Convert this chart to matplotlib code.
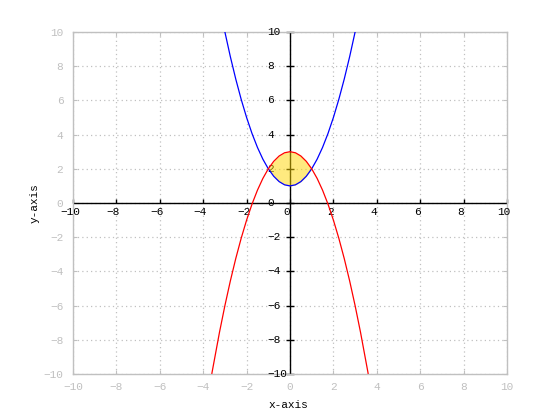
import matplotlib
matplotlib.use('Agg')
import matplotlib.pyplot as plt

# Data
x_blue = [-3.0, -2.75, -2.5, -2.25, -2.0, -1.75, -1.5, -1.25, -1.0, -0.75, -0.5, -0.25,
          0.0, 0.25, 0.5, 0.75, 1.0, 1.25, 1.5, 1.75, 2.0, 2.25, 2.5, 2.75, 3.0]
y_blue = [10.0, 8.5625, 7.25, 6.0625, 5.0, 4.0625, 3.25, 2.5625, 2.0, 1.5625, 1.25, 1.0625,
          1.0, 1.0625, 1.25, 1.5625, 2.0, 2.5625, 3.25, 4.0625, 5.0, 6.0625, 7.25, 8.5625, 10.0]

x_red = [-3.6, -3.25, -3.0, -2.75, -2.5, -2.25, -2.0, -1.75, -1.5, -1.25, -1.0, -0.75, -0.5, -0.25,
         0.0, 0.25, 0.5, 0.75, 1.0, 1.25, 1.5, 1.75, 2.0, 2.25, 2.5, 2.75, 3.0, 3.25, 3.6]
y_red = [-9.96, -7.5625, -6.0, -4.5625, -3.25, -2.0625, -1.0, -0.0625, 0.75, 1.4375, 2.0, 2.4375, 2.75, 2.9375,
         3.0, 2.9375, 2.75, 2.4375, 2.0, 1.4375, 0.75, -0.0625, -1.0, -2.0625, -3.25, -4.5625, -6.0, -7.5625, -9.96]

x_fill = [-1.0, -0.875, -0.75, -0.625, -0.5, -0.375, -0.25, -0.125, 0.0,
          0.125, 0.25, 0.375, 0.5, 0.625, 0.75, 0.875, 1.0]
fill_upper = [2.0, 2.234375, 2.4375, 2.609375, 2.75, 2.859375, 2.9375, 2.984375, 3.0,
              2.984375, 2.9375, 2.859375, 2.75, 2.609375, 2.4375, 2.234375, 2.0]
fill_lower = [2.0, 1.765625, 1.5625, 1.390625, 1.25, 1.140625, 1.0625, 1.015625, 1.0,
              1.015625, 1.0625, 1.140625, 1.25, 1.390625, 1.5625, 1.765625, 2.0]

ticks = [-10, -8, -6, -4, -2, 0, 2, 4, 6, 8, 10]
tick_labels = [str(t) if t >= 0 else '\u2212' + str(-t) for t in ticks]

FONT = 'Liberation Mono'
FS = 8
GRAY = '#c0c0c0'

fig = plt.figure(figsize=(5.6, 4.2), dpi=100)
ax = fig.add_axes([73/560, 1-374/420, (507-73)/560, (374-32)/420])

ax.set_xlim(-10, 10)
ax.set_ylim(-10, 10)
ax.set_xticks(ticks)
ax.set_yticks(ticks)
ax.set_xticklabels(tick_labels, fontfamily=FONT, fontsize=FS, color=GRAY)
ax.set_yticklabels(tick_labels, fontfamily=FONT, fontsize=FS, color=GRAY)
ax.tick_params(axis='both', direction='in', length=3, width=0.8, color=GRAY,
               top=True, right=True)
ax.tick_params(axis='x', pad=6)
ax.tick_params(axis='y', pad=7)
for s in ax.spines.values():
    s.set_color(GRAY)
    s.set_linewidth(1)
ax.grid(True, color=GRAY, linestyle=(0, (1, 2.5)), linewidth=0.9)

# Zero axes
ax.axhline(0, color='black', linewidth=1, zorder=2)
ax.axvline(0, color='black', linewidth=1, zorder=2)
for t, lab in zip(ticks, tick_labels):
    ax.plot([t], [0], marker=2, color='black', markersize=3, markeredgewidth=1, zorder=2, clip_on=False)
    ax.plot([0], [t], marker=1, color='black', markersize=3, markeredgewidth=1, zorder=2, clip_on=False)
    ax.plot([0], [t], marker=0, color='black', markersize=3, markeredgewidth=1, zorder=2, clip_on=False)
    ax.annotate(lab, xy=(t, 0), xytext=(-3, -4), textcoords='offset pixels',
                ha='center', va='top', fontfamily=FONT, fontsize=FS, color='black')
    ax.annotate(lab, xy=(0, t), xytext=(-23, 0), textcoords='offset pixels',
                ha='left', va='center', fontfamily=FONT, fontsize=FS, color='black')

ax.fill_between(x_fill, fill_lower, fill_upper, color='gold', alpha=0.5, linewidth=0, zorder=3)
ax.plot(x_blue, y_blue, color='blue', linewidth=0.9, zorder=4)
ax.plot(x_red, y_red, color='red', linewidth=0.9, zorder=4)

fig.text(288.5/560, 1-405/420, 'x-axis', ha='center', va='center', fontfamily=FONT, fontsize=FS, color='black')
fig.text(35/560, 1-203.5/420, 'y-axis', ha='center', va='center', rotation=90, fontfamily=FONT, fontsize=FS, color='black')

fig.savefig('out.png', dpi=100)
